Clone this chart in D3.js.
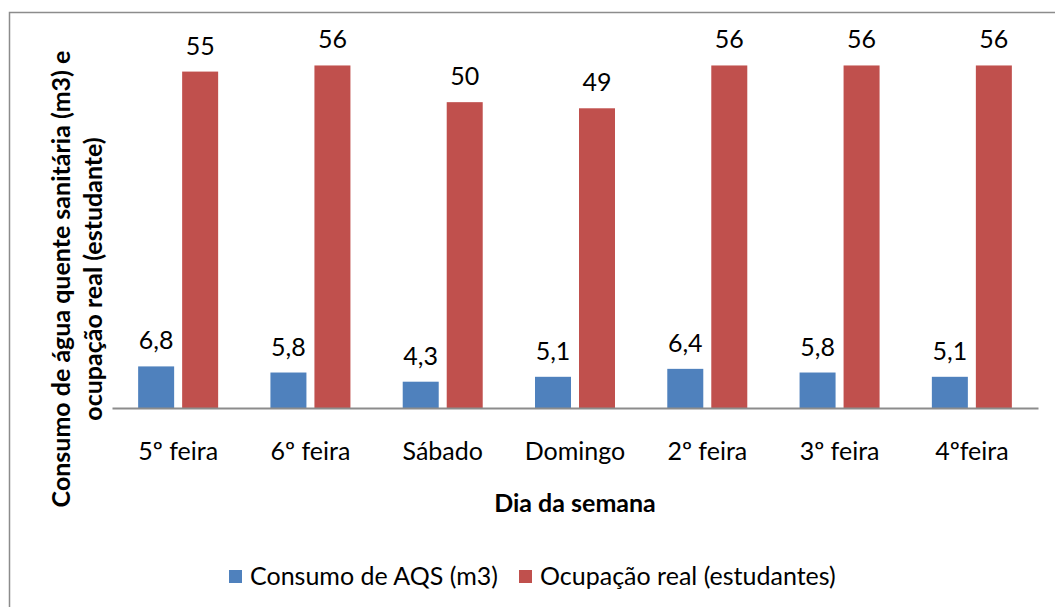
<!DOCTYPE html>
<html>
<head>
<meta charset="utf-8">
<script src="https://cdn.jsdelivr.net/npm/d3@7"></script>
<style>
  body { margin: 0; background: #fff; }
  svg { display: block; font-family: Lato, "Open Sans", sans-serif; }
</style>
</head>
<body>
<svg id="chart" width="1055" height="607"></svg>
<script>
const days = ['5º feira', '6º feira', 'Sábado', 'Domingo', '2º feira', '3º feira', '4ºfeira'];
const consumo = [6.8, 5.8, 4.3, 5.1, 6.4, 5.8, 5.1];
const ocupacao = [55, 56, 50, 49, 56, 56, 56];
const seriesNames = ['Consumo de AQS (m3)', 'Ocupação real (estudantes)'];
const colors = ['#4f81bd', '#c0504d'];

const fontSize = 25;
const svg = d3.select('#chart');

// outer chart border (right and bottom edges sit outside the picture)
svg.append('rect')
  .attr('x', 9.5).attr('y', 12.5)
  .attr('width', 1080).attr('height', 640)
  .attr('fill', 'none')
  .attr('stroke', '#8c8c8c')
  .attr('stroke-width', 1.5);

const plot = { left: 112, right: 1038, top: 41, bottom: 408 };

const x = d3.scaleBand()
  .domain(days)
  .range([plot.left, plot.right]);

const barW = 36, gap = 8;
const y = d3.scaleLinear().domain([0, 60]).range([plot.bottom, plot.top]);

const rows = days.map((d, i) => ({ day: d, values: [consumo[i], ocupacao[i]] }));

const groups = svg.selectAll('.group')
  .data(rows)
  .enter().append('g')
  .attr('class', 'group')
  .attr('transform', d => 'translate(' + (x(d.day) + x.bandwidth() / 2) + ',0)');

groups.selectAll('rect')
  .data(d => d.values.map((v, s) => ({ v, s })))
  .enter().append('rect')
  .attr('x', d => d.s === 0 ? -(barW + gap / 2) : gap / 2)
  .attr('y', d => y(d.v))
  .attr('width', barW)
  .attr('height', d => y(0) - y(d.v))
  .attr('fill', d => colors[d.s]);

groups.selectAll('.label')
  .data(d => d.values.map((v, s) => ({ v, s })))
  .enter().append('text')
  .attr('class', 'label')
  .attr('x', d => d.s === 0 ? -(barW / 2 + gap / 2) : barW / 2 + gap / 2)
  .attr('y', d => y(d.v) - 17)
  .attr('text-anchor', 'middle')
  .attr('font-size', fontSize)
  .attr('fill', '#000')
  .text(d => String(d.v).replace('.', ','));

// x axis: baseline and category labels only
const xAxis = svg.append('g')
  .attr('transform', 'translate(0,' + plot.bottom + ')')
  .call(d3.axisBottom(x).tickSize(0).tickPadding(34));
xAxis.select('.domain').attr('stroke', '#8c8c8c').attr('stroke-width', 2);
xAxis.selectAll('text')
  .attr('font-family', 'Lato, "Open Sans", sans-serif')
  .attr('font-size', fontSize)
  .attr('fill', '#000');

svg.append('text')
  .attr('x', 575).attr('y', 512)
  .attr('text-anchor', 'middle')
  .attr('font-size', fontSize)
  .attr('font-weight', 'bold')
  .text('Dia da semana');

// y title, two lines
const yTitle = svg.append('text')
  .attr('transform', 'translate(70,279) rotate(-90)')
  .attr('text-anchor', 'middle')
  .attr('font-size', fontSize)
  .attr('font-weight', 'bold');
yTitle.append('tspan').attr('x', 0).attr('dy', 0).text('Consumo de água quente sanitária (m3) e');
yTitle.append('tspan').attr('x', 0).attr('dy', 32).text('ocupação real (estudante)');

// legend
const legendX = [229, 519];
const legend = svg.selectAll('.legend')
  .data(seriesNames)
  .enter().append('g')
  .attr('class', 'legend')
  .attr('transform', (d, i) => 'translate(' + legendX[i] + ',577)');
legend.append('rect')
  .attr('x', 0).attr('y', -7)
  .attr('width', 13).attr('height', 13)
  .attr('fill', (d, i) => colors[i]);
legend.append('text')
  .attr('x', 21).attr('y', 8)
  .attr('font-size', fontSize)
  .text(d => d);
</script>
</body>
</html>
